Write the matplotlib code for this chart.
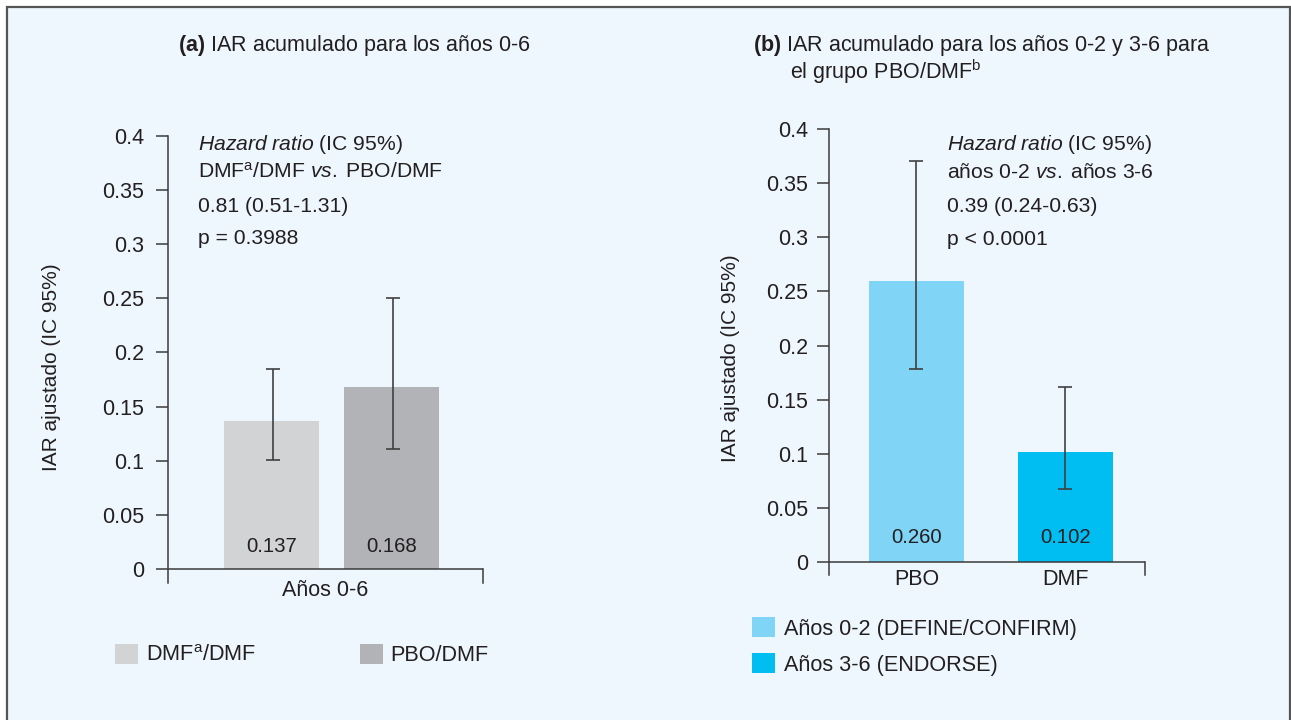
import matplotlib
matplotlib.use("Agg")
import matplotlib.pyplot as plt
from matplotlib.patches import Rectangle

plt.rcParams['font.family'] = ['Liberation Sans', 'DejaVu Sans']
plt.rcParams['mathtext.fontset'] = 'custom'
plt.rcParams['mathtext.rm'] = 'Liberation Sans'
plt.rcParams['mathtext.it'] = 'Liberation Sans:italic'
plt.rcParams['mathtext.bf'] = 'Liberation Sans:bold'

# ---------------- data ----------------
a_groups = ["DMF$^{\\mathrm{a}}$/DMF", "PBO/DMF"]
a_values = [0.137, 0.168]
a_lower = [0.101, 0.111]
a_upper = [0.185, 0.250]
a_category = "Años 0-6"

b_categories = ["PBO", "DMF"]
b_values = [0.260, 0.102]
b_lower = [0.178, 0.067]
b_upper = [0.370, 0.162]
b_legend = ["Años 0-2 (DEFINE/CONFIRM)", "Años 3-6 (ENDORSE)"]

yticks = [0, 0.05, 0.1, 0.15, 0.2, 0.25, 0.3, 0.35, 0.4]
ytick_labels = ["0", "0.05", "0.1", "0.15", "0.2", "0.25", "0.3", "0.35", "0.4"]

a_colors = ["#d1d3d4", "#b1b3b6"]
b_colors = ["#80d4f5", "#00bdf2"]
TXT = "#231f20"
AX = "#3a3a3a"
ERR = "#404040"

FS_TICK = 15.5
FS_ANN = 15.2
FS_TITLE = 15.5
FS_LEG = 15.6
FS_YLAB = 15
FS_VAL = 14.7

W, H = 1291, 720
fig = plt.figure(figsize=(W / 100, H / 100), dpi=100, facecolor="white")

# background panel with border
fig.patches.append(Rectangle((7 / W, -0.05), (1290 - 7) / W, 1.05 - 7 / H,
                             transform=fig.transFigure, facecolor="#eef7fd",
                             edgecolor="#555555", linewidth=1.6, zorder=-10))


def fx(px):
    return px / W


def fy(py):
    return 1 - py / H


def style_axis(ax, ymin, pad):
    ax.set_facecolor("none")
    ax.set_ylim(ymin, 0.4)
    ax.set_yticks(yticks)
    ax.set_yticklabels(ytick_labels)
    ax.tick_params(axis='y', direction='out', length=8.5, width=1.1,
                   color=AX, labelsize=FS_TICK, labelcolor=TXT, pad=pad)
    ax.spines["top"].set_visible(False)
    ax.spines["bottom"].set_visible(False)
    ax.spines["left"].set_color(AX)
    ax.spines["left"].set_linewidth(1.1)
    ax.spines["right"].set_color(AX)
    ax.spines["right"].set_linewidth(1.1)
    ax.spines["right"].set_bounds(ymin, 0)
    ax.axhline(0, color=AX, linewidth=1.1, zorder=3)


# ---------------- panel (a) ----------------
axa = fig.add_axes([fx(168), fy(583), fx(483) - fx(168), fy(136) - fy(583)])
style_axis(axa, -0.013, 8.5)
offsets = [-0.6, 0.6]
axa.set_xlim(-1.635, 1.515)
bars_a = []
for off, v, lo, hi, c, lab in zip(offsets, a_values, a_lower, a_upper, a_colors, a_groups):
    b = axa.bar(off, v, width=0.95, color=c, label=lab, zorder=2)
    bars_a.append(b)
    axa.errorbar(off + 0.015, v, yerr=[[v - lo], [hi - v]], fmt='none', ecolor=ERR,
                 elinewidth=1.2, capsize=4.8, capthick=1.2, zorder=4)
    axa.text(off, 0.021, f"{v:.3f}", ha="center", va="center", fontsize=FS_VAL, color=TXT, zorder=5)
axa.set_xticks([-0.06])
axa.set_xticklabels([a_category])
axa.tick_params(axis='x', length=0, labelsize=FS_TICK, labelcolor=TXT, pad=-2)

fig.text(fx(52), fy(367), "IAR ajustado (IC 95%)", rotation=90, ha="center", va="center",
         fontsize=FS_YLAB, color=TXT)
fig.text(fx(178), fy(45), "$\\mathbf{(a)}$ IAR acumulado para los años 0-6", ha="left",
         va="center", fontsize=FS_TITLE, color=TXT)

ann_a = ["$\\mathit{Hazard\\ ratio}$ (IC 95%)",
         "DMF$^{\\mathrm{a}}$/DMF $\\mathit{vs.}\\;$PBO/DMF",
         "0.81 (0.51-1.31)",
         "p = 0.3988"]
for t, y in zip(ann_a, [145, 172, 206, 239]):
    fig.text(fx(198), fy(y), t, ha="left", va="center", fontsize=FS_ANN, color=TXT)

fig.legend(handles=[b[0] for b in bars_a], labels=a_groups, loc="upper left",
           bbox_to_anchor=(fx(115), fy(644)), bbox_transform=fig.transFigure,
           ncol=2, frameon=False, fontsize=FS_LEG, handlelength=1.05, handleheight=1.05,
           handletextpad=0.37, columnspacing=4.8, borderpad=0, borderaxespad=0,
           labelcolor=TXT)

# ---------------- panel (b) ----------------
axb = fig.add_axes([fx(829), fy(575), fx(1145) - fx(829), fy(129) - fy(575)])
style_axis(axb, -0.012, 6.5)
xpos = [0, 1]
axb.set_xlim(-0.587, 1.534)
bars_b = []
for x, v, lo, hi, c, lab in zip(xpos, b_values, b_lower, b_upper, b_colors, b_legend):
    b = axb.bar(x, v, width=0.638, color=c, label=lab, zorder=2)
    bars_b.append(b)
    axb.errorbar(x, v, yerr=[[v - lo], [hi - v]], fmt='none', ecolor=ERR,
                 elinewidth=1.2, capsize=4.8, capthick=1.2, zorder=4)
    axb.text(x, 0.023, f"{v:.3f}", ha="center", va="center", fontsize=FS_VAL, color=TXT, zorder=5)
axb.set_xticks(xpos)
axb.set_xticklabels(b_categories)
axb.tick_params(axis='x', length=0, labelsize=FS_TICK, labelcolor=TXT, pad=-4)

fig.text(fx(730), fy(358), "IAR ajustado (IC 95%)", rotation=90, ha="center", va="center",
         fontsize=FS_YLAB, color=TXT)
fig.text(fx(753), fy(46), "$\\mathbf{(b)}$ IAR acumulado para los años 0-2 y 3-6 para",
         ha="left", va="center", fontsize=FS_TITLE, color=TXT)
fig.text(fx(790), fy(72), "el grupo PBO/DMF$^{\\mathrm{b}}$",
         ha="left", va="center", fontsize=FS_TITLE, color=TXT)

ann_b = ["$\\mathit{Hazard\\ ratio}$ (IC 95%)",
         "años 0-2 $\\mathit{vs.}\\;$años 3-6",
         "0.39 (0.24-0.63)",
         "p < 0.0001"]
for t, y in zip(ann_b, [145, 172, 206, 240]):
    fig.text(fx(947), fy(y), t, ha="left", va="center", fontsize=FS_ANN, color=TXT)

fig.legend(handles=[b[0] for b in bars_b], labels=b_legend, loc="upper left",
           bbox_to_anchor=(fx(752), fy(617)), bbox_transform=fig.transFigure,
           ncol=1, frameon=False, fontsize=FS_LEG, handlelength=1.07, handleheight=1.07,
           handletextpad=0.42, labelspacing=0.62, borderpad=0, borderaxespad=0,
           labelcolor=TXT)

fig.savefig("out.png", dpi=100, facecolor=fig.get_facecolor())
